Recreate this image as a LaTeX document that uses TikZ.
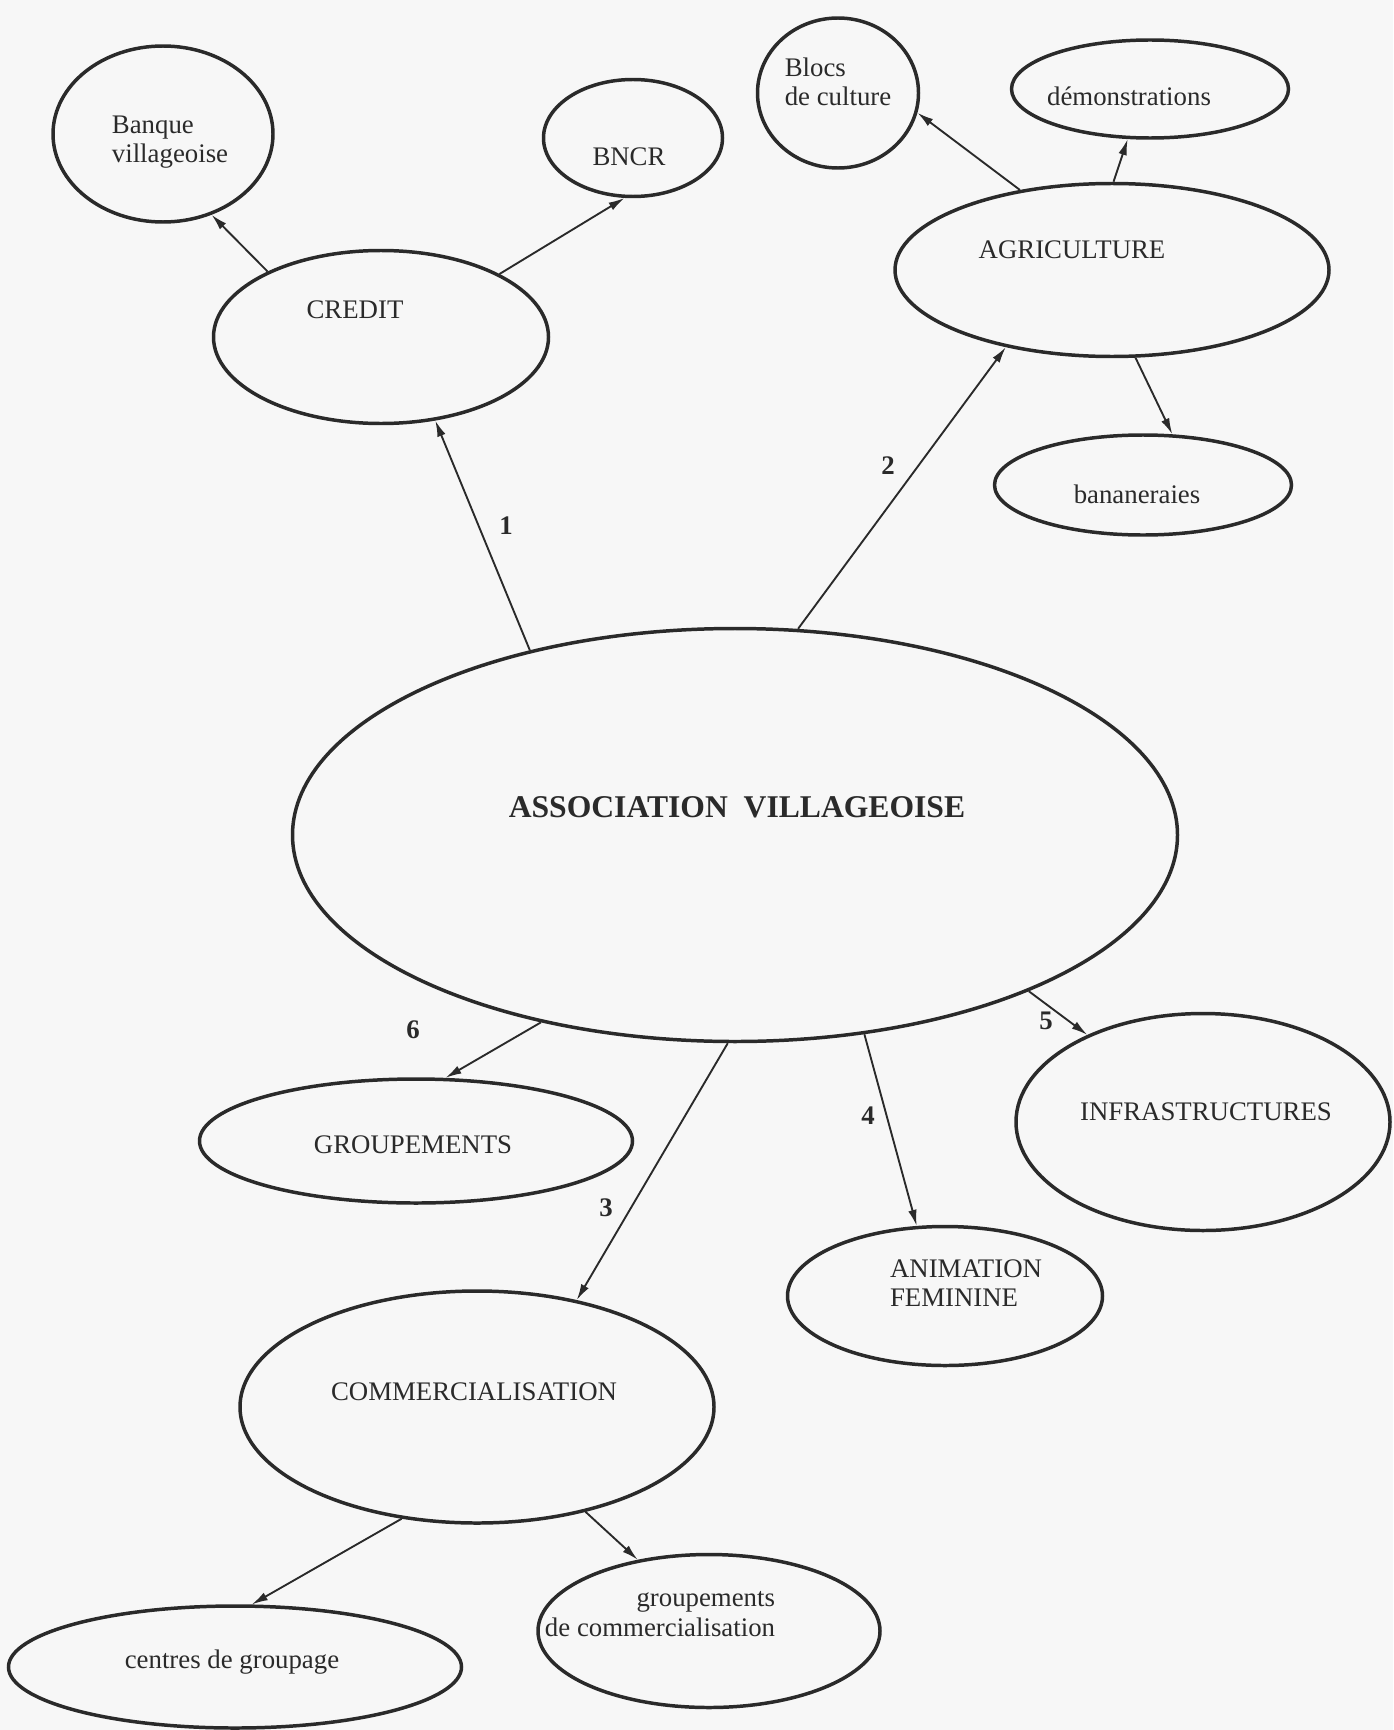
\documentclass[tikz,border=0pt]{standalone}
\usepackage{fontspec}
\setmainfont{Liberation Serif}
\usetikzlibrary{arrows.meta,shapes.geometric}
\definecolor{ink}{HTML}{2A2A2A}
\definecolor{paper}{HTML}{F7F7F7}

\begin{document}
\begin{tikzpicture}[x=0.373pt,y=-0.373pt,>={Latex[length=6pt,width=3.2pt]},
  oval/.style 2 args={ellipse,draw=ink,line width=1.3pt,inner sep=0pt,minimum width=#1*0.373pt,minimum height=#2*0.373pt},
  txt/.style={text=ink,font=\fontsize{10}{11}\selectfont,align=left,inner sep=0pt},
  num/.style={text=ink,font=\fontsize{10}{11}\selectfont\bfseries,inner sep=0pt},
  link/.style={->,draw=ink,line width=0.7pt}]
\fill[paper] (0,0) rectangle (1393,1730);
\useasboundingbox (0,0) rectangle (1393,1730);

\node[oval={885}{413}] (assoc) at (735,835) {};
\node[txt,font=\fontsize{11.8}{13}\selectfont\bfseries] (tassoc) at (737,807) {ASSOCIATION~~VILLAGEOISE};

\node[oval={335}{173}] (credit) at (381,337) {};
\node[txt] (tcredit) at (355,310) {CREDIT};
\node[oval={220}{176}] (banque) at (163,134) {};
\node[txt] (tbanque) at (170,142) {Banque\\villageoise};
\node[oval={179}{117}] (bncr) at (633,138) {};
\node[txt] (tbncr) at (629,157) {BNCR};

\node[oval={434}{173}] (agri) at (1112,270) {};
\node[txt] (tagri) at (1072,250) {AGRICULTURE};
\node[oval={161}{150}] (blocs) at (838,93) {};
\node[txt] (tblocs) at (838,82) {Blocs\\de culture};
\node[oval={277}{98}] (demo) at (1150,89) {};
\node[txt] (tdemo) at (1129,96) {démonstrations};
\node[oval={297}{100}] (banan) at (1143,485) {};
\node[txt] (tbanan) at (1137,494) {bananeraies};

\node[oval={433}{124}] (group) at (416,1141) {};
\node[txt] (tgroup) at (413,1145) {GROUPEMENTS};
\node[oval={474}{232}] (comm) at (477,1407) {};
\node[txt] (tcomm) at (474,1392) {COMMERCIALISATION};
\node[oval={315}{139}] (anim) at (945,1296) {};
\node[txt] (tanim) at (966,1283) {ANIMATION\\FEMININE};
\node[oval={374}{217}] (infra) at (1203,1122) {};
\node[txt] (tinfra) at (1206,1112) {INFRASTRUCTURES};
\node[oval={453}{122}] (centres) at (235,1667) {};
\node[txt] (tcentres) at (232,1662) {centres de groupage};
\node[oval={342}{153}] (grpcom) at (709,1631) {};
\node[txt,align=right] (tgrpcom) at (660,1614) {groupements\hspace{3pt}\\de commercialisation};

\draw[link] (assoc.138) -- (credit.-57);
\draw[link] (credit.150) -- (banque.-59);
\draw[link] (credit.28) -- (bncr.-98);
\draw[link] (assoc.73) -- (agri.-144);
\draw[link] (agri.139) -- (blocs.-14);
\draw[link] (agri.89) -- (demo.-114);
\draw[link] (agri.-75) -- (banan.60);
\draw[link] (assoc.-136) -- (group.65);
\draw[link] (assoc.-92) -- (comm.47);
\draw[link] (assoc.-57) -- (anim.112);
\draw[link] (assoc.-28) -- (infra.143);
\draw[link] (comm.-124) -- (centres.75);
\draw[link] (comm.-44) -- (grpcom.135);

\node[num] (n1) at (506,526) {1};
\node[num] (n2) at (888,466) {2};
\node[num] (n3) at (606,1208) {3};
\node[num] (n4) at (868,1116) {4};
\node[num] (n5) at (1046,1021) {5};
\node[num] (n6) at (413,1030) {6};
\end{tikzpicture}
\end{document}
